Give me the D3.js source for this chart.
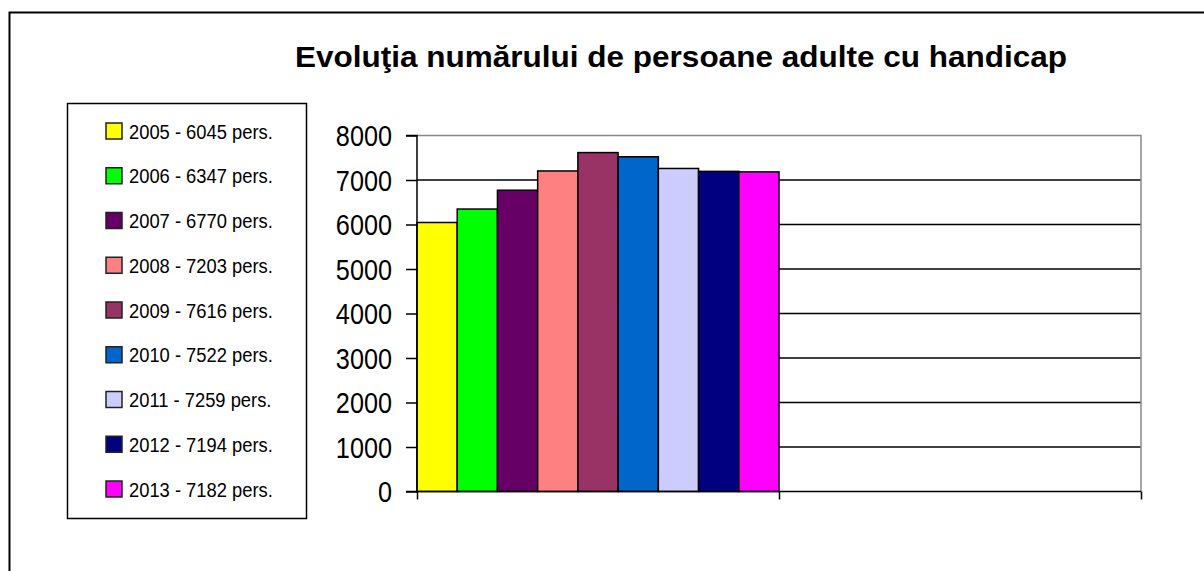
<!DOCTYPE html>
<html>
<head>
<meta charset="utf-8">
<script src="https://cdn.jsdelivr.net/npm/d3@7"></script>
<style>
  body { margin: 0; background: #fff; }
  text { font-family: "Liberation Sans Narrow", "Arial Narrow", "Liberation Sans", sans-serif; }
</style>
</head>
<body>
<svg id="chart" width="1204" height="571"></svg>
<script>
// data
const years = ["2005", "2006", "2007", "2008", "2009", "2010", "2011", "2012", "2013"];
const persons = [6045, 6347, 6770, 7203, 7616, 7522, 7259, 7194, 7182];
const colors = ["#ffff00", "#00ff00", "#660066", "#ff8080", "#993366", "#0066cc", "#ccccff", "#000080", "#ff00ff"];
const categories = ["a", "b"]; // second category is empty
const yTicks = [0, 1000, 2000, 3000, 4000, 5000, 6000, 7000, 8000];
const title = "Evoluţia numărului de persoane adulte cu handicap";

const svg = d3.select("#chart");

// no narrow font installed, so squeeze the text by hand
function condense(sel, k) {
  sel.each(function() {
    const w = this.getComputedTextLength();
    d3.select(this).attr("textLength", w * k).attr("lengthAdjust", "spacingAndGlyphs");
  });
}

// outer frame (runs off the page on the right and bottom)
svg.append("rect")
  .attr("x", 9.5).attr("y", 12.5).attr("width", 1300).attr("height", 700)
  .attr("fill", "none").attr("stroke", "#000").attr("stroke-width", 2);

svg.append("text")
  .attr("x", 681).attr("y", 67)
  .attr("text-anchor", "middle")
  .attr("font-size", 30).attr("font-weight", "bold")
  .attr("textLength", 772).attr("lengthAdjust", "spacingAndGlyphs")
  .text(title);

const pLeft = 417, pRight = 1141, pTop = 135.5, pBottom = 491.5;

let x = d3.scaleBand().domain(categories).range([pLeft, pRight]).padding(0);
let xs = d3.scaleBand().domain(years).range([0, x.bandwidth()]).padding(0);
let y = d3.scaleLinear().domain([0, 8000]).range([pBottom, pTop]);

// gridlines
svg.append("g").selectAll("line").data(yTicks.filter(d => d > 0 && d < 8000)).join("line")
  .attr("x1", pLeft).attr("x2", pRight)
  .attr("y1", d => y(d)).attr("y2", d => y(d))
  .attr("stroke", "#000").attr("stroke-width", 1.5);

// plot border top / right
svg.append("path")
  .attr("d", `M${pLeft},${y(8000)}H${pRight}V${pBottom}`)
  .attr("fill", "none").attr("stroke", "#888").attr("stroke-width", 1.5);

// bars
svg.append("g").selectAll("rect").data(persons).join("rect")
  .attr("x", (d, i) => x("a") + xs(years[i]))
  .attr("width", xs.bandwidth())
  .attr("y", d => y(d))
  .attr("height", d => y(0) - y(d))
  .attr("fill", (d, i) => colors[i])
  .attr("stroke", "#000").attr("stroke-width", 1.5);

// y axis
let yAxis = d3.axisLeft(y).tickValues(yTicks).tickSize(11).tickPadding(14).tickFormat(d3.format("d"));
let gy = svg.append("g").attr("transform", `translate(${pLeft},0)`).call(yAxis);
gy.select(".domain").attr("stroke", "#000").attr("stroke-width", 1.5).attr("d", `M-11,${pTop}H0V${pBottom}H-11`);
gy.selectAll(".tick line").attr("stroke", "#000").attr("stroke-width", 1.5);
gy.selectAll(".tick text")
  .attr("font-family", '"Liberation Sans Narrow", "Arial Narrow", "Liberation Sans", sans-serif')
  .attr("font-size", 29).attr("fill", "#000").attr("dy", "0.36em")
  .call(condense, 0.87);

// x axis
let xl = d3.scaleLinear().domain([0, categories.length]).range([pLeft, pRight]);
let xAxis = d3.axisBottom(xl).tickValues(d3.range(categories.length + 1)).tickSize(8).tickFormat("");
let gx = svg.append("g").attr("transform", `translate(0,${pBottom})`).call(xAxis);
gx.select(".domain").attr("stroke", "#000").attr("stroke-width", 1.5).attr("d", `M${pLeft},0H${pRight}`);
gx.selectAll(".tick line").attr("stroke", "#000").attr("stroke-width", 1.5);

// legend
const lg = svg.append("g");
lg.append("rect")
  .attr("x", 67.5).attr("y", 103.5).attr("width", 239).attr("height", 415)
  .attr("fill", "#fff").attr("stroke", "#000").attr("stroke-width", 1.5);

let ly = d3.scalePoint().domain(years).range([131, 489]);
const items = lg.selectAll("g.item").data(years).join("g")
  .attr("class", "item")
  .attr("transform", d => `translate(0,${ly(d)})`);
items.append("rect")
  .attr("x", 106).attr("y", -8).attr("width", 16).attr("height", 16)
  .attr("fill", (d, i) => colors[i]).attr("stroke", "#222").attr("stroke-width", 1.5);
items.append("text")
  .attr("x", 129).attr("y", 7.5)
  .attr("font-size", 20).attr("fill", "#000")
  .text((d, i) => `${d} - ${persons[i]} pers.`)
  .call(condense, 0.917);
</script>
</body>
</html>
